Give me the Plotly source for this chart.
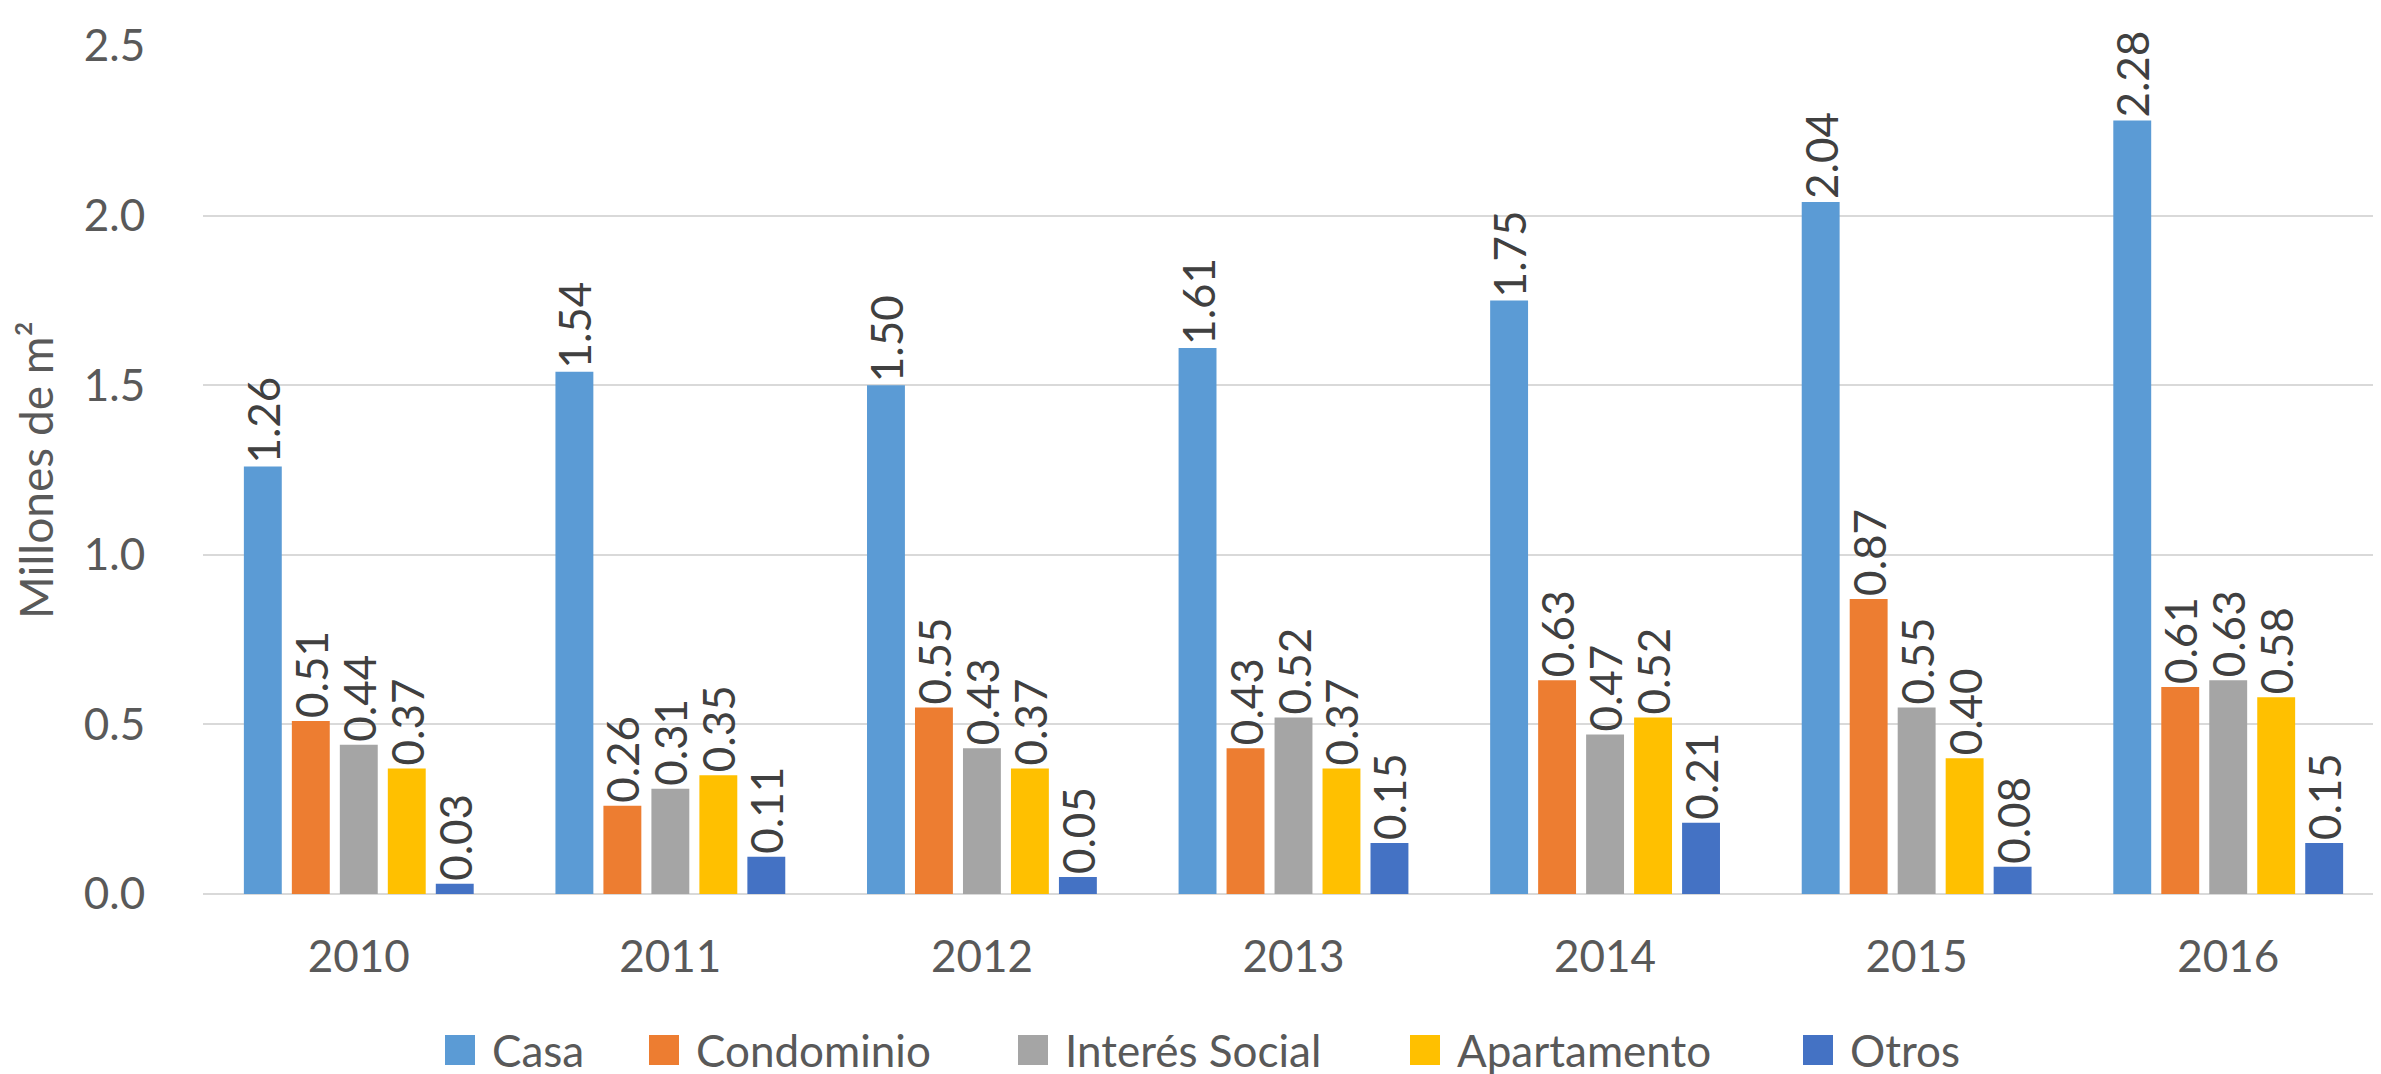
import plotly.graph_objects as go

years = ["2010", "2011", "2012", "2013", "2014", "2015", "2016"]
series_names = ["Casa", "Condominio", "Interés Social", "Apartamento", "Otros"]
casa = [1.26, 1.54, 1.50, 1.61, 1.75, 2.04, 2.28]
condominio = [0.51, 0.26, 0.55, 0.43, 0.63, 0.87, 0.61]
interes_social = [0.44, 0.31, 0.43, 0.52, 0.47, 0.55, 0.63]
apartamento = [0.37, 0.35, 0.37, 0.37, 0.52, 0.40, 0.58]
otros = [0.03, 0.11, 0.05, 0.15, 0.21, 0.08, 0.15]
y_ticks = [0.0, 0.5, 1.0, 1.5, 2.0, 2.5]

series_values = [casa, condominio, interes_social, apartamento, otros]
colors = ["#5B9BD5", "#ED7D31", "#A5A5A5", "#FFC000", "#4472C4"]

FONT = "Lato"
W, H = 2381, 1074
ML, MR, MT, MB = 195, 5, 38, 188
PW, PH = W - ML - MR, H - MT - MB

fig = go.Figure()
for name, vals, col in zip(series_names, series_values, colors):
    fig.add_trace(go.Bar(
        x=years, y=vals, name=name,
        marker=dict(color=col, line=dict(width=0)),
        text=[f"{v:.2f}" for v in vals],
        textposition="outside",
        textangle=-90,
        constraintext="none",
        cliponaxis=False,
        textfont=dict(family=FONT, size=44, color="#404040"),
        showlegend=False,
    ))

# legend drawn as squares + labels below the plot (pixel layout of the reference)
sq_left_px = [437, 641, 1010, 1402, 1795]
txt_left_px = [482, 686, 1055, 1447, 1840]
leg_center_px = 1042
sq = 30
shapes = []
annotations = []
for name, col, sx, tx in zip(series_names, colors, sq_left_px, txt_left_px):
    x0 = (sx - ML) / PW
    x1 = (sx + sq - ML) / PW
    y0 = (MT + PH - (leg_center_px + sq / 2)) / PH
    y1 = (MT + PH - (leg_center_px - sq / 2)) / PH
    shapes.append(dict(type="rect", xref="paper", yref="paper", x0=x0, x1=x1, y0=y0, y1=y1,
                       fillcolor=col, line=dict(width=0)))
    annotations.append(dict(xref="paper", yref="paper", x=(tx - ML) / PW,
                            y=(MT + PH - leg_center_px) / PH,
                            xanchor="left", yanchor="middle", showarrow=False, text=name,
                            font=dict(family=FONT, size=44, color="#595959")))

fig.update_layout(
    width=W, height=H,
    margin=dict(l=ML, r=MR, t=MT, b=MB, autoexpand=False),
    paper_bgcolor="white", plot_bgcolor="white",
    barmode="group", bargap=0.23, bargroupgap=0.21,
    font=dict(family=FONT, size=44, color="#595959"),
    showlegend=False,
    shapes=shapes,
    annotations=annotations,
    xaxis=dict(showgrid=False, showline=False, zeroline=False, automargin=False,
               ticks="outside", ticklen=24, tickcolor="rgba(0,0,0,0)",
               tickfont=dict(family=FONT, size=44, color="#595959")),
    yaxis=dict(range=[0, 2.5], tickvals=y_ticks, tickformat=".1f", automargin=False,
               showgrid=True, gridcolor="#D9D9D9", gridwidth=2,
               zeroline=True, zerolinecolor="#D9D9D9", zerolinewidth=2,
               showline=False,
               ticks="outside", ticklen=48, tickcolor="rgba(0,0,0,0)",
               tickfont=dict(family=FONT, size=44, color="#595959"),
               title=dict(text="Millones de m²", standoff=18,
                          font=dict(family=FONT, size=46, color="#595959"))),
)

fig.write_html("out.html")
